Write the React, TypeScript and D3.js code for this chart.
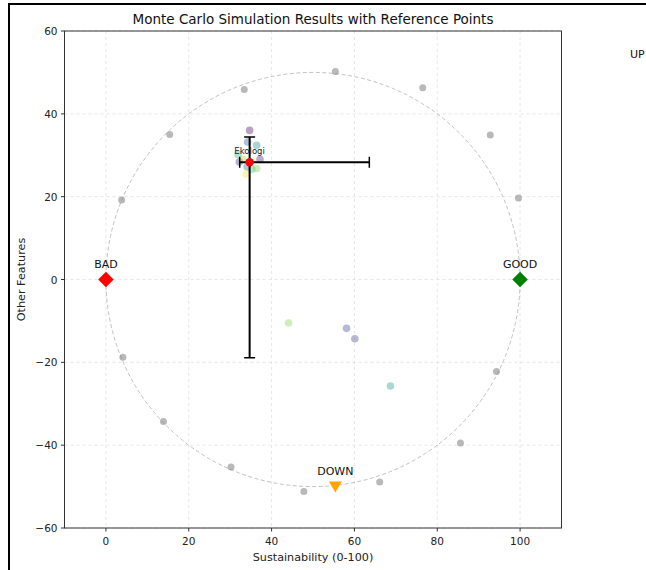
import React from "react";
import * as d3 from "d3";

// Reference points scattered around the unit circle (gray)
const refX = [55.4, 76.5, 92.8, 99.6, 94.3, 85.6, 66.1, 47.8, 30.2, 13.9, 4.1, 3.8, 15.4, 33.4];
const refY = [50.2, 46.3, 34.9, 19.7, -22.2, -39.5, -48.9, -51.2, -45.3, -34.3, -18.8, 19.2, 35.0, 45.9];

// Monte Carlo simulation results, coloured by run value (0..1, viridis)
const simX = [34.7, 36.4, 34.2, 37.2, 32.2, 31.9, 36.4, 34.1, 33.9, 35.2, 33.1, 44.1, 58.1, 60.1, 68.7];
const simY = [36.0, 32.4, 33.2, 29.0, 28.4, 30.2, 26.8, 27.2, 25.4, 26.6, 29.0, -10.5, -11.8, -14.3, -25.7];
const simT = [0.02, 0.5, 0.3, 0.08, 0.15, 0.65, 0.8, 0.35, 1.0, 0.7, 0.88, 0.82, 0.2, 0.2, 0.55];

// Anchor points
const anchorNames = ["BAD", "GOOD", "DOWN", "UP"];
const anchorX = [0, 100, 55.4, 128.3];
const anchorY = [0, 0, -50, 50.5];
const anchorColors = ["red", "green", "orange", "blue"];
const anchorShapes = ["diamond", "diamond", "down", "up"];

// Mean result with asymmetric error bars
const meanLabel = "Ekologi";
const meanX = 34.7;
const meanY = 28.3;
const errXLow = 32.3;
const errXHigh = 63.6;
const errYLow = -18.9;
const errYHigh = 34.4;

const xTicks = [0, 20, 40, 60, 80, 100];
const yTicks = [-60, -40, -20, 0, 20, 40, 60];

const W = 646;
const H = 570;
const left = 64.5;
const right = 561.5;
const top = 31;
const bottom = 528;

export default function App() {
  const x = d3.scaleLinear().domain([-10, 110]).range([left, right]);
  const y = d3.scaleLinear().domain([-60, 60]).range([bottom, top]);
  const font = "DejaVu Sans, sans-serif";

  const circlePts = d3.range(0, 361).map((a) => {
    const r = (a * Math.PI) / 180;
    return [x(50 + 50 * Math.cos(r)), y(50 * Math.sin(r))] as [number, number];
  });
  const circlePath = d3.line()(circlePts) || "";

  const diamond = d3.symbol(d3.symbolSquare, 120)();
  const tri = (cx: number, cy: number, dir: number) => {
    const s = 6.5;
    return dir > 0
      ? `M${cx - s},${cy - s * 0.8}L${cx + s},${cy - s * 0.8}L${cx},${cy + s * 0.9}Z`
      : `M${cx - s},${cy + s * 0.8}L${cx + s},${cy + s * 0.8}L${cx},${cy - s * 0.9}Z`;
  };

  const cap = 5.5;

  return (
    <svg
      width={W}
      height={H}
      style={{ position: "absolute", left: 0, top: 0, background: "white" }}
      fontFamily={font}
    >
      <defs>
        <clipPath id="plotClip">
          <rect x={left} y={top} width={right - left} height={bottom - top} />
        </clipPath>
      </defs>
      <rect x={9} y={4} width={W + 20} height={H + 20} fill="white" stroke="black" strokeWidth={2} />

      {/* grid */}
      <g stroke="#cccccc" strokeOpacity={0.6} strokeDasharray="3,3" strokeWidth={0.8}>
        {xTicks.map((t) => (
          <line key={"gx" + t} x1={x(t)} x2={x(t)} y1={top} y2={bottom} />
        ))}
        {yTicks.map((t) => (
          <line key={"gy" + t} x1={left} x2={right} y1={y(t)} y2={y(t)} />
        ))}
      </g>

      <g clipPath="url(#plotClip)">
        <path d={circlePath} fill="none" stroke="#aaaaaa" strokeOpacity={0.8} strokeDasharray="4,2.5" strokeWidth={0.9} />

        {refX.map((v, i) => (
          <circle key={"r" + i} cx={x(v)} cy={y(refY[i])} r={3.5} fill="#808080" fillOpacity={0.55} />
        ))}

        {simX.map((v, i) => (
          <circle key={"s" + i} cx={x(v)} cy={y(simY[i])} r={3.8} fill={d3.interpolateViridis(simT[i])} fillOpacity={0.38} />
        ))}

        {anchorNames.map((n, i) => {
          const cx = x(anchorX[i]);
          const cy = y(anchorY[i]);
          if (anchorShapes[i] === "diamond") {
            return <path key={n} d={diamond} transform={`translate(${cx},${cy}) rotate(45)`} fill={anchorColors[i]} />;
          }
          return <path key={n} d={tri(cx, cy, anchorShapes[i] === "down" ? 1 : -1)} fill={anchorColors[i]} />;
        })}

        {/* error bars */}
        <g stroke="black" strokeWidth={2}>
          <line x1={x(errXLow)} x2={x(errXHigh)} y1={y(meanY)} y2={y(meanY)} />
          <line x1={x(meanX)} x2={x(meanX)} y1={y(errYLow)} y2={y(errYHigh)} />
          <line x1={x(errXLow)} x2={x(errXLow)} y1={y(meanY) - cap} y2={y(meanY) + cap} strokeWidth={1.5} />
          <line x1={x(errXHigh)} x2={x(errXHigh)} y1={y(meanY) - cap} y2={y(meanY) + cap} strokeWidth={1.5} />
          <line x1={x(meanX) - cap} x2={x(meanX) + cap} y1={y(errYLow)} y2={y(errYLow)} strokeWidth={1.5} />
          <line x1={x(meanX) - cap} x2={x(meanX) + cap} y1={y(errYHigh)} y2={y(errYHigh)} strokeWidth={1.5} />
        </g>
        <circle cx={x(meanX)} cy={y(meanY)} r={4.2} fill="red" />
      </g>

      <text x={x(meanX)} y={y(meanY) - 8} textAnchor="middle" fontSize={8.5} fill="#222">
        {meanLabel}
      </text>

      {anchorNames.map((n, i) => (
        <text key={"t" + n} x={x(anchorX[i])} y={y(anchorY[i]) - 12} textAnchor="middle" fontSize={11} fill="#111">
          {n}
        </text>
      ))}

      {/* spines */}
      <rect x={left} y={top} width={right - left} height={bottom - top} fill="none" stroke="#333" strokeWidth={1} />

      {/* axes */}
      {xTicks.map((t) => (
        <g key={"xt" + t}>
          <line x1={x(t)} x2={x(t)} y1={bottom} y2={bottom + 3.5} stroke="#333" />
          <text x={x(t)} y={bottom + 17} textAnchor="middle" fontSize={10.5} fill="#222">
            {t}
          </text>
        </g>
      ))}
      {yTicks.map((t) => (
        <g key={"yt" + t}>
          <line x1={left - 3.5} x2={left} y1={y(t)} y2={y(t)} stroke="#333" />
          <text x={left - 7} y={y(t) + 4} textAnchor="end" fontSize={10.5} fill="#222">
            {t < 0 ? "\u2212" + Math.abs(t) : t}
          </text>
        </g>
      ))}

      <text x={(left + right) / 2} y={561} textAnchor="middle" fontSize={11.2} fill="#222">
        Sustainability (0-100)
      </text>
      <text transform={`translate(25,${(top + bottom) / 2}) rotate(-90)`} textAnchor="middle" fontSize={11.2} fill="#222">
        Other Features
      </text>
      <text x={(left + right) / 2} y={24} textAnchor="middle" fontSize={13.5} fill="#111">
        Monte Carlo Simulation Results with Reference Points
      </text>
    </svg>
  );
}
